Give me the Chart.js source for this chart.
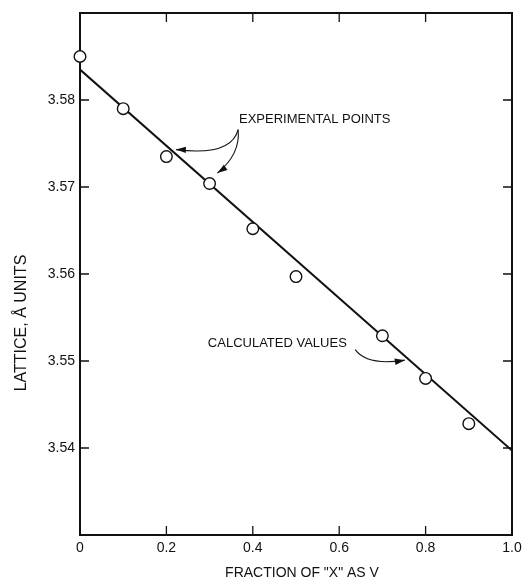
<!DOCTYPE html>
<html>
<head>
<meta charset="utf-8">
<title>Lattice vs fraction of X as V</title>
<script src="https://cdn.jsdelivr.net/npm/chart.js@4.4.1/dist/chart.umd.min.js"></script>
<style>
  html, body { margin: 0; padding: 0; background: #fff; }
  #wrap { width: 522px; height: 582px; position: relative; }
</style>
</head>
<body>
<div id="wrap"><canvas id="myChart"></canvas></div>
<script>
// fraction of "X" as V for the measured points
const fractionV = [0, 0.1, 0.2, 0.3, 0.4, 0.5, 0.7, 0.8, 0.9];
// measured lattice parameter, A units
const latticeExp = [3.585, 3.579, 3.5735, 3.5704, 3.5652, 3.5597, 3.5529, 3.548, 3.5428];
// calculated straight line, end points
const calcFraction = [0, 1.0];
const calcLattice = [3.5835, 3.5397];
// tick values
const xTickValues = [0, 0.2, 0.4, 0.6, 0.8, 1.0];
const yTickValues = [3.54, 3.55, 3.56, 3.57, 3.58];
const xTopTicks = [0.2, 0.4, 0.6, 0.8];

const FONT = '"Liberation Sans", Arial, sans-serif';
const INK = '#111';

function arrowHead(ctx, fromX, fromY, toX, toY) {
    var ang = Math.atan2(toY - fromY, toX - fromX);
    var len = 10, half = 3.2;
    ctx.beginPath();
    ctx.moveTo(toX, toY);
    ctx.lineTo(toX - len * Math.cos(ang) + half * Math.sin(ang), toY - len * Math.sin(ang) - half * Math.cos(ang));
    ctx.lineTo(toX - len * Math.cos(ang) - half * Math.sin(ang), toY - len * Math.sin(ang) + half * Math.cos(ang));
    ctx.closePath();
    ctx.fill();
}

// frame + inward ticks under the data, titles and labels with arrows on top
const framePlugin = {
    id: 'frame',
    beforeDatasetsDraw: function (chart) {
        var ctx = chart.ctx, a = chart.chartArea;
        var xs = chart.scales.x, ys = chart.scales.y;
        ctx.save();
        ctx.strokeStyle = INK;
        ctx.lineWidth = 2;
        ctx.strokeRect(a.left, a.top, a.right - a.left, a.bottom - a.top);

        ctx.lineWidth = 1.3;
        ctx.beginPath();
        yTickValues.forEach(function (v) {
            var py = ys.getPixelForValue(v);
            ctx.moveTo(a.left, py); ctx.lineTo(a.left + 9, py);
            ctx.moveTo(a.right, py); ctx.lineTo(a.right - 9, py);
        });
        xTickValues.forEach(function (v) {
            var px = xs.getPixelForValue(v);
            ctx.moveTo(px, a.bottom); ctx.lineTo(px, a.bottom - 9);
        });
        xTopTicks.forEach(function (v) {
            var px = xs.getPixelForValue(v);
            ctx.moveTo(px, a.top); ctx.lineTo(px, a.top + 9);
        });
        ctx.stroke();
        ctx.restore();
    },
    afterDatasetsDraw: function (chart) {
        var ctx = chart.ctx;
        var xs = chart.scales.x, ys = chart.scales.y;
        ctx.save();
        ctx.strokeStyle = INK;
        ctx.fillStyle = INK;

        // axis titles
        ctx.font = '14px ' + FONT;
        ctx.textAlign = 'center';
        ctx.textBaseline = 'middle';
        ctx.fillText('FRACTION OF "X" AS V', 302, 573);
        ctx.save();
        ctx.translate(22, 323);
        ctx.rotate(-Math.PI / 2);
        ctx.font = '16px ' + FONT;
        ctx.fillText('LATTICE, \u00C5 UNITS', 0, 0);
        ctx.restore();

        // annotation labels
        ctx.font = '13px ' + FONT;
        ctx.textAlign = 'left';
        ctx.fillText('EXPERIMENTAL POINTS', xs.getPixelForValue(0.368), ys.getPixelForValue(3.5778));
        ctx.fillText('CALCULATED VALUES', xs.getPixelForValue(0.296), ys.getPixelForValue(3.552));

        function P(x, y) { return [xs.getPixelForValue(x), ys.getPixelForValue(y)]; }
        ctx.lineWidth = 1.1;
        // experimental arrows
        var o = P(0.366, 3.5766);
        var c1 = P(0.35, 3.5735), e1 = P(0.222, 3.5743);
        ctx.beginPath(); ctx.moveTo(o[0], o[1]); ctx.quadraticCurveTo(c1[0], c1[1], e1[0], e1[1]); ctx.stroke();
        arrowHead(ctx, c1[0] - 20, e1[1] + 1, e1[0], e1[1]);
        var c2 = P(0.372, 3.5738), e2 = P(0.318, 3.5716);
        ctx.beginPath(); ctx.moveTo(o[0], o[1]); ctx.quadraticCurveTo(c2[0], c2[1], e2[0], e2[1]); ctx.stroke();
        arrowHead(ctx, c2[0] - 4, c2[1] + 6, e2[0], e2[1]);
        // calculated arrow
        var s3 = P(0.637, 3.5513), c3 = P(0.665, 3.5494), e3 = P(0.752, 3.5501);
        ctx.beginPath(); ctx.moveTo(s3[0], s3[1]); ctx.quadraticCurveTo(c3[0], c3[1], e3[0], e3[1]); ctx.stroke();
        arrowHead(ctx, c3[0], c3[1], e3[0], e3[1]);
        ctx.restore();
    }
};

var ctx = document.getElementById('myChart').getContext('2d');
var myChart = new Chart(ctx, {
    type: 'scatter',
    data: {
        datasets: [{
            label: 'Experimental points',
            data: fractionV.map(function (x, i) { return { x: x, y: latticeExp[i] }; }),
            pointRadius: 5.8,
            pointBackgroundColor: '#fff',
            pointBorderColor: INK,
            pointBorderWidth: 1.4,
            showLine: false,
            clip: false,
            order: 0
        }, {
            label: 'Calculated values',
            data: calcFraction.map(function (x, i) { return { x: x, y: calcLattice[i] }; }),
            showLine: true,
            borderColor: INK,
            borderWidth: 2,
            pointRadius: 0,
            order: 1
        }]
    },
    options: {
        responsive: true,
        maintainAspectRatio: false,
        animation: false,
        layout: { padding: { left: 0, right: 10, top: 13, bottom: 0 } },
        plugins: {
            legend: { display: false },
            tooltip: { enabled: false }
        },
        scales: {
            x: {
                type: 'linear',
                min: 0,
                max: 1,
                grid: { display: false, drawTicks: false },
                border: { display: false },
                afterBuildTicks: function (axis) {
                    axis.ticks = xTickValues.map(function (v) { return { value: v }; });
                },
                afterFit: function (axis) {
                    axis.height = 47;
                    axis.paddingLeft = 0;
                    axis.paddingRight = 0;
                },
                ticks: {
                    padding: 5,
                    maxRotation: 0,
                    autoSkip: false,
                    color: INK,
                    font: { family: FONT, size: 14 },
                    callback: function (v) { return v === 0 ? '0' : Number(v).toFixed(1); }
                }
            },
            y: {
                type: 'linear',
                min: 3.53,
                max: 3.59,
                grid: { display: false, drawTicks: false },
                border: { display: false },
                afterBuildTicks: function (axis) {
                    axis.ticks = yTickValues.map(function (v) { return { value: v }; });
                },
                afterFit: function (axis) {
                    axis.width = 80;
                    axis.paddingTop = 0;
                    axis.paddingBottom = 0;
                },
                ticks: {
                    padding: 5,
                    autoSkip: false,
                    color: INK,
                    font: { family: FONT, size: 14 },
                    callback: function (v) { return Number(v).toFixed(2); }
                }
            }
        }
    },
    plugins: [framePlugin]
});
</script>
</body>
</html>
